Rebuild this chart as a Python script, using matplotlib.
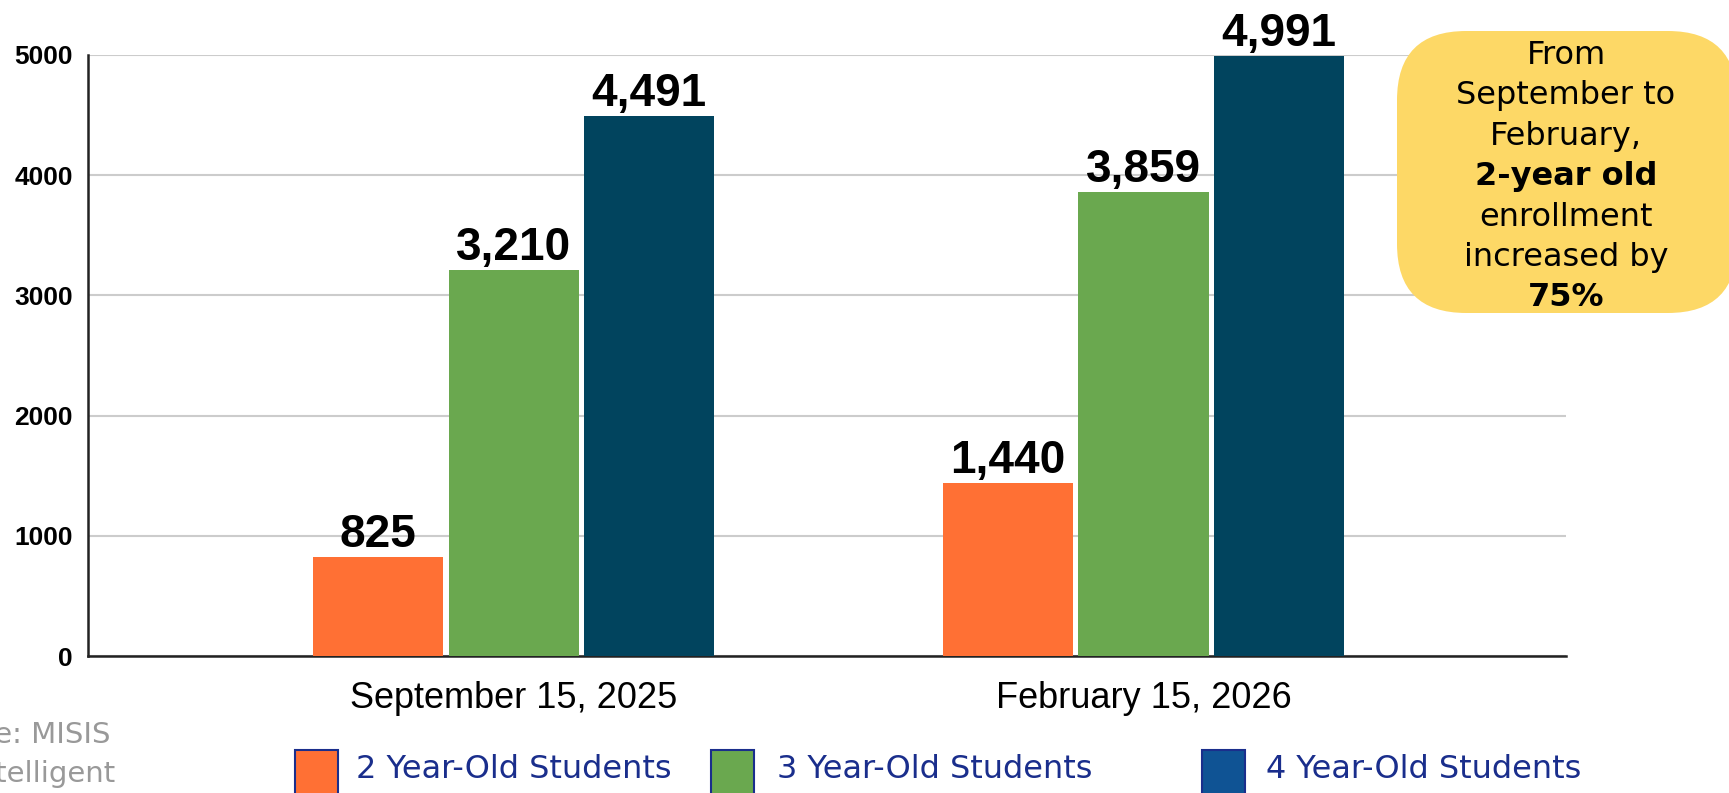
import numpy as np
import matplotlib.pyplot as plt
from matplotlib.patches import FancyBboxPatch, Rectangle

# data
dates = ["September 15, 2025", "February 15, 2026"]
series = ["2 Year-Old Students", "3 Year-Old Students", "4 Year-Old Students"]
two_year = [825, 1440]
three_year = [3210, 3859]
four_year = [4491, 4991]
yticks = [0, 1000, 2000, 3000, 4000, 5000]

bar_colors = ["#ff7034", "#6aa84f", "#01445e"]
legend_colors = ["#ff7034", "#6aa84f", "#0f5394"]
navy = "#1a2e8c"

W, H = 1729, 793
fig = plt.figure(figsize=(W / 100, H / 100), dpi=100)
ax = fig.add_axes([88 / W, 1 - 656 / H, (1566 - 88) / W, (656 - 55) / H])

x = np.arange(len(dates))
width = 0.207
step = 0.215
for i, vals in enumerate([two_year, three_year, four_year]):
    pos = x + (i - 1) * step
    bars = ax.bar(pos, vals, width, color=bar_colors[i], zorder=3)
    for b, v in zip(bars, vals):
        ax.annotate(f"{v:,}", (b.get_x() + b.get_width() / 2, v),
                    xytext=(0, 7), textcoords="offset points",
                    ha="center", va="baseline", fontsize=33, fontweight="bold",
                    family="Liberation Sans", annotation_clip=False)

ax.set_xlim(-0.676, 1.671)
ax.set_ylim(0, 5000)
ax.set_yticks(yticks)
ax.set_yticklabels([str(t) for t in yticks], fontsize=19, fontweight="bold",
                   family="Liberation Sans")
ax.set_xticks(x)
ax.set_xticklabels(dates, fontsize=26, family="Liberation Sans")
ax.tick_params(axis="both", length=0)
ax.tick_params(axis="y", pad=11)
ax.tick_params(axis="x", pad=18)
ax.grid(axis="y", color="#cccccc", lw=1.5, zorder=0)
for s in ["top", "right"]:
    ax.spines[s].set_visible(False)
ax.spines["left"].set_linewidth(1.8)
ax.spines["bottom"].set_linewidth(1.8)
ax.spines["left"].set_color("#222222")
ax.spines["bottom"].set_color("#222222")

# callout box
box = FancyBboxPatch((1397 / W, 1 - 313 / H), 340 / W, 282 / H,
                     boxstyle="round,pad=0,rounding_size=0.04",
                     transform=fig.transFigure, facecolor="#fdd866",
                     edgecolor="none", mutation_aspect=W / H)
fig.patches.append(box)
lines = [("From", "normal"), ("September to", "normal"), ("February,", "normal"),
         ("2-year old", "bold"), ("enrollment", "normal"),
         ("increased by", "normal"), ("75%", "bold")]
for k, (t, wgt) in enumerate(lines):
    fig.text(1566 / W, 1 - (55 + k * 40.5) / H, t, ha="center", va="center",
             fontsize=23, fontweight=wgt, family="DejaVu Sans")

# legend
sq_x = [295, 711, 1202]
tx_x = [356, 777, 1266]
for i in range(3):
    fig.patches.append(Rectangle((sq_x[i] / W, 1 - 800 / H), 43 / W, 50 / H,
                                 transform=fig.transFigure,
                                 facecolor=legend_colors[i], edgecolor=navy, lw=1.5))
    fig.text(tx_x[i] / W, 1 - 769 / H, series[i], ha="left", va="center",
             fontsize=23, color=navy, family="DejaVu Sans")

# source
fig.text(110 / W, 1 - 735 / H, "Source: MISIS", ha="right", va="center",
         fontsize=21, color="#999999", family="DejaVu Sans")
fig.text(115 / W, 1 - 774 / H, "Intelligent", ha="right", va="center",
         fontsize=21, color="#999999", family="DejaVu Sans")

fig.savefig("out.png", dpi=100)
